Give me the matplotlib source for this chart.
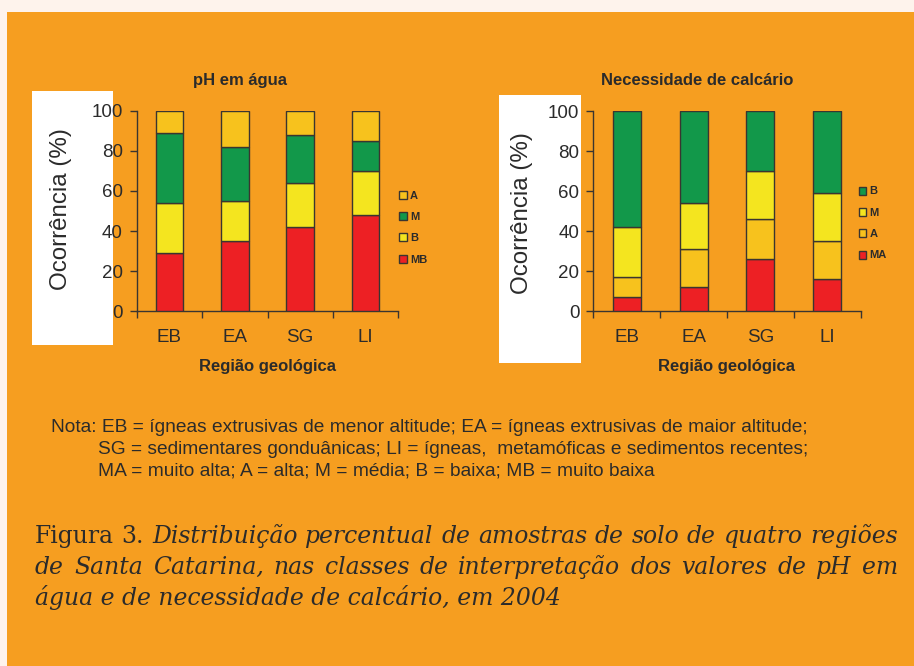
import numpy as np
import matplotlib.pyplot as plt
from matplotlib.patches import Rectangle, Patch

plt.rcParams["font.family"] = ["Liberation Sans", "DejaVu Sans"]

regioes = ["EB", "EA", "SG", "LI"]

# pH em água (% de amostras por classe)
ph_mb = [29, 35, 42, 48]
ph_b = [25, 20, 22, 22]
ph_m = [35, 27, 24, 15]
ph_a = [11, 18, 12, 15]

# Necessidade de calcário (% de amostras por classe)
nc_ma = [7, 12, 26, 16]
nc_a = [10, 19, 20, 19]
nc_m = [25, 23, 24, 24]
nc_b = [58, 46, 30, 41]

RED = "#ED2024"; YEL = "#F4E51F"; GOLD = "#F7C21D"; GREEN = "#12984A"
ORANGE = "#F69E20"; CREAM = "#FEF3EC"; INK = "#2b2b2b"; EDGE = "#3a3530"

W, H = 914, 666
fig = plt.figure(figsize=(W / 100, H / 100), dpi=100, facecolor=CREAM)


def box(x0, y0, x1, y1):
    # pixel rect (top-left origin) -> figure fraction
    return [x0 / W, 1 - y1 / H, (x1 - x0) / W, (y1 - y0) / H]


def rect(x0, y0, x1, y1, color, z):
    fig.patches.append(Rectangle(box(x0, y0, x1, y1)[:2], (x1 - x0) / W, (y1 - y0) / H,
                                 transform=fig.transFigure, facecolor=color,
                                 edgecolor="none", zorder=z))


rect(7, 12, W, H, ORANGE, -2)
rect(32, 91, 113, 345, "white", -1)
rect(499, 95, 581, 363, "white", -1)

ax1 = fig.add_axes(box(136.7, 110.7, 398.3, 311.3))
ax2 = fig.add_axes(box(593.3, 111, 860.7, 311.3))


def stacked(ax, series, colors, labels, title, title_x, leg_xy):
    x = np.arange(len(regioes))
    bottom = np.zeros(len(regioes))
    handles = []
    for vals, c, lab in zip(series, colors, labels):
        ax.bar(x, vals, 0.42, bottom=bottom, color=c, edgecolor=EDGE, linewidth=1.0, zorder=3)
        bottom += np.array(vals)
        handles.append(Patch(facecolor=c, edgecolor=EDGE, linewidth=1.0, label=lab))
    ax.set_xlim(-0.5, 3.5); ax.set_ylim(0, 100)
    ax.set_facecolor("none")
    for s in ("top", "right"):
        ax.spines[s].set_visible(False)
    for s in ("left", "bottom"):
        ax.spines[s].set_color(EDGE); ax.spines[s].set_linewidth(1.0)
    ax.set_yticks(range(0, 101, 20))
    ax.tick_params(axis="y", direction="out", length=5, width=1, color=EDGE,
                   labelsize=13.5, labelcolor=INK, pad=5)
    ax.set_xticks(np.arange(-0.5, 4, 1))
    ax.set_xticklabels([])
    ax.tick_params(axis="x", which="major", direction="out", length=5, width=1, color=EDGE)
    ax.set_xticks(x, minor=True)
    ax.set_xticklabels(regioes, minor=True)
    ax.tick_params(axis="x", which="minor", length=0, labelsize=13.5, labelcolor=INK, pad=13)
    ax.set_xlabel("Região geológica", fontsize=12, fontweight="bold", color=INK, labelpad=9)
    ax.text(title_x, 1.15, title, transform=ax.transAxes, ha="center", va="center",
            fontsize=12, fontweight="bold", color=INK)
    ax.legend(handles=handles[::-1], loc="upper left", bbox_to_anchor=leg_xy,
              bbox_transform=fig.transFigure, frameon=False,
              prop={"size": 8, "weight": "bold"}, labelcolor=INK,
              handlelength=0.7, handleheight=0.7, handletextpad=0.3,
              labelspacing=1.02, borderpad=0, borderaxespad=0)


stacked(ax1, [ph_mb, ph_b, ph_m, ph_a], [RED, YEL, GREEN, GOLD], ["MB", "B", "M", "A"],
        "pH em água", 0.395, (399 / W, 1 - 190.5 / H))
stacked(ax2, [nc_ma, nc_a, nc_m, nc_b], [RED, GOLD, YEL, GREEN], ["MA", "A", "M", "B"],
        "Necessidade de calcário", 0.387, (858.5 / W, 1 - 186.5 / H))

for xp, yp in ((61, 209), (522, 213)):
    fig.text(xp / W, 1 - yp / H, "Ocorrência (%)", rotation=90, ha="center", va="center",
             fontsize=17.4, color=INK)

renderer = fig.canvas.get_renderer()


def fit_size(text, width_px, **kw):
    t = fig.text(0, 0, text, fontsize=10, **kw)
    w = t.get_window_extent(renderer).width
    t.remove()
    return 10 * width_px / w


# Nota
nota = ["Nota: EB = ígneas extrusivas de menor altitude; EA = ígneas extrusivas de maior altitude;",
        "SG = sedimentares gonduânicas; LI = ígneas,  metamóficas e sedimentos recentes;",
        "MA = muito alta; A = alta; M = média; B = baixa; MB = muito baixa"]
fs_nota = fit_size(nota[0], 761)
for txt, xp, yp in zip(nota, (51, 98, 98), (428, 450, 471.5)):
    fig.text(xp / W, 1 - yp / H, txt, fontsize=fs_nota, va="center", color=INK)

# Legenda da figura (justificada)
serif = ["DejaVu Serif"]
cap3 = "água e de necessidade de calcário, em 2004"
fs_cap = fit_size(cap3, 527, family=serif, style="italic")


def justify(words, styles, yp, x0, x1):
    texts = [fig.text(0, 1 - yp / H, w, family=serif, style=s, fontsize=fs_cap,
                      va="center", color=INK) for w, s in zip(words, styles)]
    widths = [t.get_window_extent(renderer).width for t in texts]
    gap = (x1 - x0 - sum(widths)) / (len(words) - 1)
    xp = x0
    for t, w in zip(texts, widths):
        t.set_x(xp / W)
        xp += w + gap


l1 = "Figura 3. Distribuição percentual de amostras de solo de quatro regiões".split()
justify(l1, ["normal", "normal"] + ["italic"] * (len(l1) - 2), 536.5, 35, 898)
l2 = "de Santa Catarina, nas classes de interpretação dos valores de pH em".split()
justify(l2, ["italic"] * len(l2), 567.5, 35, 898)
fig.text(35 / W, 1 - 597 / H, cap3, family=serif, style="italic", fontsize=fs_cap,
         va="center", color=INK)

fig.savefig("out.png", dpi=100, facecolor=CREAM)
